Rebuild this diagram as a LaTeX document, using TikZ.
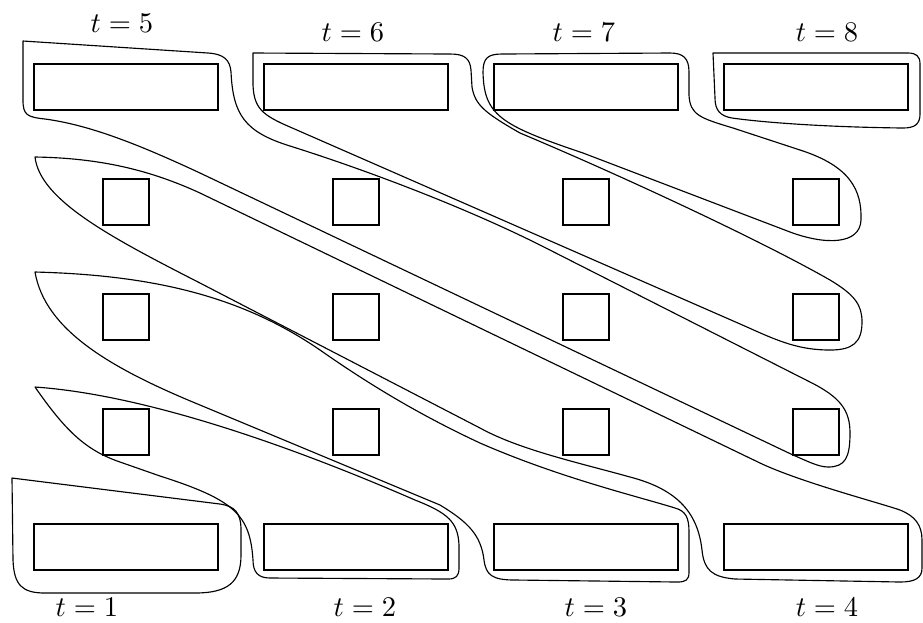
\documentclass[tikz,border=0pt]{standalone}
\begin{document}
\begin{tikzpicture}[x=0.351pt,y=-0.351pt,
  rbox/.style={draw,inner sep=0pt,minimum width=64.58pt,minimum height=16.15pt},
  sbox/.style={draw,inner sep=0pt,minimum width=16.15pt,minimum height=16.15pt},
  blob/.style={draw,line width=0.4pt,line join=round},
  tlabel/.style={inner sep=0pt}]
\useasboundingbox (0,0) rectangle (923,622);
% top row rectangles
\node[rbox] (T1) at (126,87) {};
\node[rbox] (T2) at (356,87) {};
\node[rbox] (T3) at (586,87) {};
\node[rbox] (T4) at (816,87) {};
% squares
\foreach \r/\y in {1/202,2/317,3/432}{
  \foreach \c/\x in {1/126,2/356,3/586,4/816}{
    \node[sbox] (S\r\c) at (\x,\y) {};
  }
}
% bottom row rectangles
\node[rbox] (B1) at (126,547) {};
\node[rbox] (B2) at (356,547) {};
\node[rbox] (B3) at (586,547) {};
\node[rbox] (B4) at (816,547) {};
% labels
\node[tlabel] (l5) at (122,23) {$t=5$};
\node[tlabel] (l6) at (353,32) {$t=6$};
\node[tlabel] (l7) at (584,32) {$t=7$};
\node[tlabel] (l8) at (827,32) {$t=8$};
\node[tlabel] (l1) at (87,607) {$t=1$};
\node[tlabel] (l2) at (365,607) {$t=2$};
\node[tlabel] (l3) at (596,607) {$t=3$};
\node[tlabel] (l4) at (827,607) {$t=4$};
% t=8
\draw[blob] (713,53) -- (908,53) .. controls (916,53) and (920,56) .. (920,64) -- (920,114)
  .. controls (920,124) and (915,128) .. (903,128)
  .. controls (820,127) and (760,122) .. (732,118)
  .. controls (720,116) and (715,110) .. (715,98) -- cycle;
% t=7
\draw[blob] (483,72) .. controls (483,58) and (488,54) .. (502,54) -- (670,53)
  .. controls (683,53) and (689,58) .. (689,72) -- (689,95)
  .. controls (690,115) and (700,118) .. (733,128) -- (800,150)
  .. controls (850,166) and (862,190) .. (861,220)
  .. controls (860,245) and (825,245) .. (790,232) -- (583,153)
  .. controls (500,125) and (484,115) .. cycle;
% t=6
\draw[blob] (253,53) -- (450,54) .. controls (464,54) and (470,58) .. (471,70) -- (472,87)
  .. controls (475,105) and (485,113) .. (520,133)
  .. controls (620,175) and (760,240) .. (830,280)
  .. controls (855,295) and (862,305) .. (862,322)
  .. controls (862,343) and (852,350) .. (830,350)
  .. controls (800,350) and (780,342) .. (747,327) -- (290,127)
  .. controls (262,115) and (254,108) .. (253,85) -- cycle;
% t=5
\draw[blob] (23,41) -- (208,53) .. controls (224,54) and (230,60) .. (231,72)
  .. controls (233,115) and (245,132) .. (290,146)
  .. controls (360,168) and (460,205) .. (540,245) -- (810,382)
  .. controls (840,397) and (850,410) .. (850,433)
  .. controls (850,458) and (845,467) .. (828,467)
  .. controls (818,467) and (805,460) .. (793,455) -- (200,173)
  .. controls (140,145) and (90,125) .. (45,119)
  .. controls (27,117) and (23,115) .. (23,100) -- cycle;
% t=4
\draw[blob] (35,157) .. controls (100,158) and (150,170) .. (200,193) -- (760,463)
  .. controls (800,482) and (880,503) .. (900,510)
  .. controls (915,516) and (922,525) .. (922,540) -- (922,568)
  .. controls (922,578) and (915,582) .. (900,582) -- (735,579)
  .. controls (712,577) and (704,570) .. (702,550)
  .. controls (698,515) and (680,490) .. (630,477)
  .. controls (580,463) and (520,450) .. (480,428) -- (200,283)
  .. controls (110,237) and (40,200) .. cycle;
% t=3
\draw[blob] (35,272) .. controls (150,275) and (240,295) .. (320,350)
  .. controls (370,385) and (420,415) .. (480,443)
  .. controls (560,478) and (640,497) .. (675,508)
  .. controls (686,511) and (689,518) .. (689,532) -- (689,572)
  .. controls (689,580) and (686,582) .. (677,582) -- (515,580)
  .. controls (492,580) and (486,575) .. (484,560)
  .. controls (481,535) and (468,522) .. (440,505) -- (200,405)
  .. controls (110,368) and (45,330) .. cycle;
% t=2
\draw[blob] (35,387) .. controls (150,395) and (300,450) .. (415,500)
  .. controls (448,513) and (458,522) .. (459,545) -- (459,568)
  .. controls (459,576) and (456,579) .. (448,579) -- (270,578)
  .. controls (258,578) and (253,572) .. (253,560)
  .. controls (250,515) and (235,500) .. (160,476) -- (120,462)
  .. controls (85,450) and (65,430) .. cycle;
% t=1
\draw[blob] (12,478) -- (220,504) .. controls (234,506) and (241,512) .. (241,530) -- (241,555)
  .. controls (241,582) and (228,593) .. (195,593) -- (45,593)
  .. controls (22,593) and (14,585) .. (13,560) -- cycle;
\end{tikzpicture}
\end{document}
